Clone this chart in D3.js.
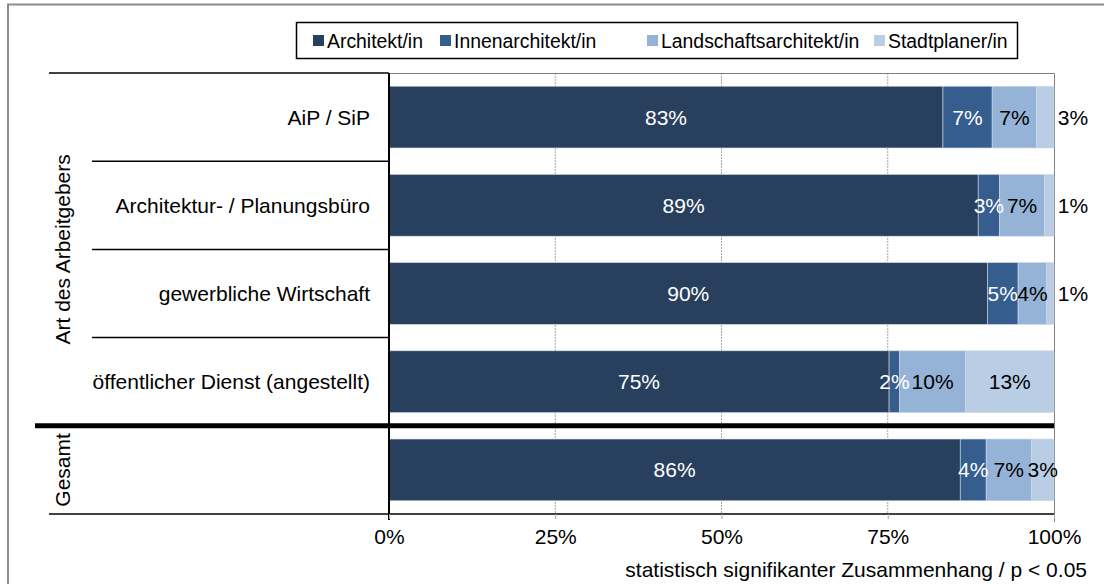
<!DOCTYPE html>
<html><head><meta charset="utf-8">
<script src="https://cdn.jsdelivr.net/npm/d3@7"></script>
<style>
html,body{margin:0;padding:0;background:#fff;}
svg text{font-family:"Liberation Sans",Arial,sans-serif;}
</style></head>
<body>
<svg id="c" width="1104" height="584"></svg>
<script>
const categories = ["AiP / SiP","Architektur- / Planungsbüro","gewerbliche Wirtschaft","öffentlicher Dienst (angestellt)",""];
const seriesNames = ["Architekt/in","Innenarchitekt/in","Landschaftsarchitekt/in","Stadtplaner/in"];
const architekt = [83.3, 88.6, 90.0, 75.2, 85.9];
const innen     = [7.4, 3.2, 4.6, 1.6, 3.9];
const landschaft= [6.7, 6.8, 4.3, 9.9, 6.8];
const stadt     = [2.6, 1.4, 1.1, 13.3, 3.4];
const ticks = [0, 25, 50, 75, 100];
const groupLabels = ["Art des Arbeitgebers","Gesamt"];
const note = "statistisch signifikanter Zusammenhang / p < 0.05";

const FS = 21, LFS = 19.4;
const colors = ["#283f5e","#355e8f","#95b3d7","#b9cde5"];
const labelColors = ["#fff","#fff","#000","#000"];
const seriesVals = [architekt, innen, landschaft, stadt];

const svg = d3.select("#c");
// outer frame
svg.append("rect").attr("x",8).attr("y",4.5).attr("width",1110).attr("height",600)
  .attr("fill","none").attr("stroke","#8c8c8c").attr("stroke-width",2);

const x0 = 389, x1 = 1054, yTop = 73, yBot = 514;
const x = d3.scaleLinear().domain([0,100]).range([x0,x1]);
const y = d3.scaleBand().domain(d3.range(categories.length)).range([yTop,yBot]).paddingInner(0.3).paddingOuter(0.15);
const band = (yBot-yTop)/categories.length;

// grid
svg.append("g").selectAll("line").data(ticks.filter(t=>t>0&&t<100)).join("line")
  .attr("x1",d=>x(d)).attr("x2",d=>x(d)).attr("y1",yTop).attr("y2",yBot)
  .attr("stroke","#a6a6a6").attr("stroke-dasharray","2,1").attr("stroke-width",1);
// plot frame top/right
svg.append("path").attr("d",`M${x0},${yTop+0.5}H${x1+0.5}V${yBot+8}`).attr("fill","none").attr("stroke","#7f7f7f").attr("stroke-width",1);

// stacked data
const rows = categories.map((c,i)=>{
  let acc=0;
  return seriesVals.map((s,j)=>{const v=s[i]; const seg={i,j,x0:acc,x1:acc+v,v}; acc+=v; return seg;});
});
const segs = rows.flat();
svg.append("g").selectAll("rect").data(segs).join("rect")
  .attr("x",d=>x(d.x0)).attr("width",d=>x(d.x1)-x(d.x0))
  .attr("y",d=>y(d.i)).attr("height",y.bandwidth())
  .attr("fill",d=>colors[d.j]).attr("stroke","#d0d8e4").attr("stroke-width",0.6);

const outside = d => d.j===3 && (x(d.x1)-x(d.x0))<18;
// labels
svg.append("g").selectAll("text").data(segs).join("text")
  .attr("x",d=> outside(d) ? x1+19 : (x(d.x0)+x(d.x1))/2)
  .attr("y",d=>y(d.i)+y.bandwidth()/2)
  .attr("dy","0.36em").attr("text-anchor","middle").attr("font-size",FS)
  .attr("fill",d=> outside(d) ? "#000" : labelColors[d.j])
  .text(d=>Math.round(d.v)+"%");

// y axis line
svg.append("line").attr("x1",x0).attr("x2",x0).attr("y1",yTop).attr("y2",yBot+6).attr("stroke","#000").attr("stroke-width",2);
// x axis line
svg.append("line").attr("x1",49).attr("x2",x1).attr("y1",yBot).attr("y2",yBot).attr("stroke","#000").attr("stroke-width",1.5);
// category separators
svg.append("line").attr("x1",49).attr("x2",x0).attr("y1",yTop).attr("y2",yTop).attr("stroke","#000").attr("stroke-width",1.5);
svg.append("g").selectAll("line").data([1,2,3]).join("line")
  .attr("x1",92).attr("x2",x0).attr("y1",d=>yTop+band*d).attr("y2",d=>yTop+band*d).attr("stroke","#000").attr("stroke-width",1.5);
// thick separator
svg.append("line").attr("x1",35).attr("x2",x1).attr("y1",yTop+band*4).attr("y2",yTop+band*4).attr("stroke","#000").attr("stroke-width",5);

// category labels
svg.append("g").selectAll("text").data(categories).join("text")
  .attr("x",370).attr("y",(d,i)=>yTop+band*(i+0.5)).attr("dy","0.36em")
  .attr("text-anchor","end").attr("font-size",FS).attr("fill","#000").text(d=>d);

// group labels
const gpos = [[62.5,yTop+band*2],[62.5,yTop+band*4.5]];
svg.append("g").selectAll("text").data(groupLabels).join("text")
  .attr("transform",(d,i)=>`translate(${gpos[i][0]},${gpos[i][1]}) rotate(-90)`)
  .attr("dy","0.36em").attr("text-anchor","middle").attr("font-size",FS).text(d=>d);

// x axis ticks
const ax = svg.append("g").attr("transform",`translate(0,${yBot})`)
  .call(d3.axisBottom(x).tickValues(ticks).tickFormat(d=>d+"%").tickSize(5).tickPadding(10));
ax.select(".domain").remove();
ax.selectAll("line").attr("stroke","#a6a6a6");
ax.selectAll("text").attr("font-size",FS).attr("font-family","Liberation Sans, Arial, sans-serif").attr("fill","#000");

// note
svg.append("text").attr("x",1087).attr("y",577).attr("text-anchor","end").attr("font-size",FS).text(note);

// legend
const lg = svg.append("g");
lg.append("rect").attr("x",296.5).attr("y",22.5).attr("width",721).attr("height",36).attr("fill","#fff").attr("stroke","#000").attr("stroke-width",1.5);
const lx = [313, 440, 647, 874];
seriesNames.forEach((n,i)=>{
  lg.append("rect").attr("x",lx[i]).attr("y",35).attr("width",11).attr("height",11).attr("fill",colors[i]);
  lg.append("text").attr("x",lx[i]+14).attr("y",41).attr("dy","0.36em").attr("font-size",LFS).text(n);
});
</script>
</body></html>
